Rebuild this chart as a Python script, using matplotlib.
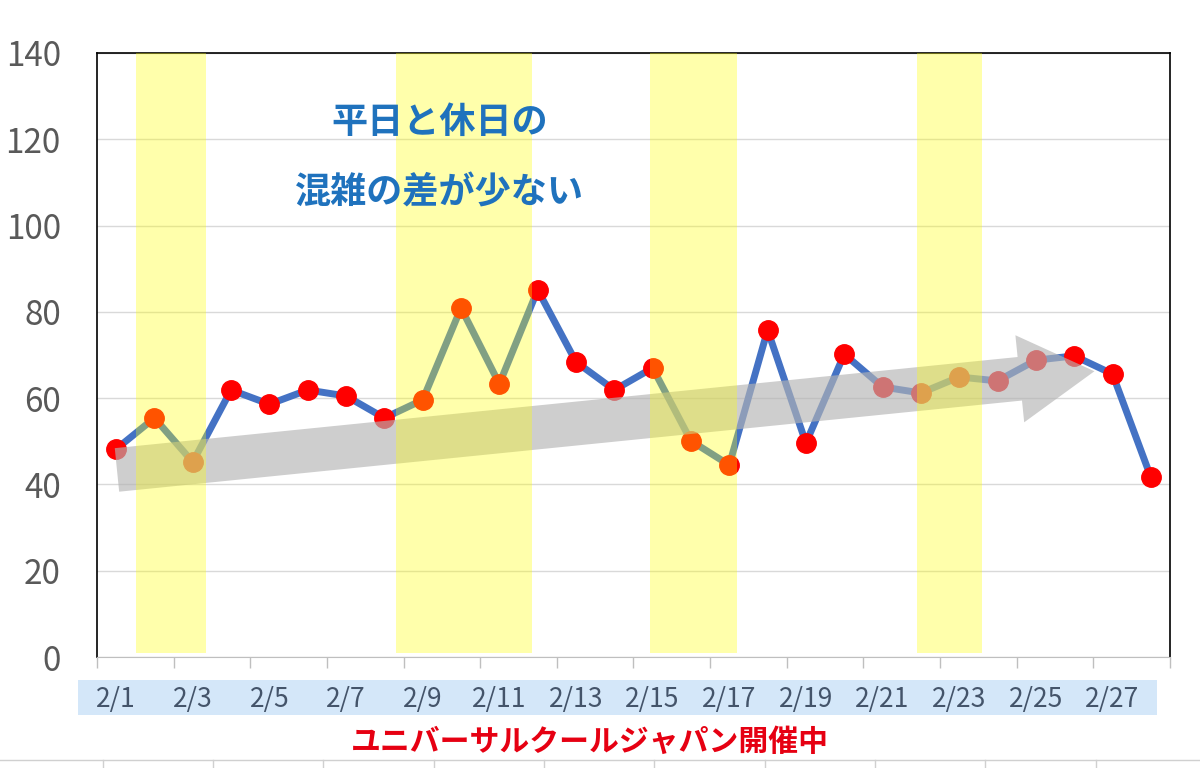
import numpy as np
import matplotlib.pyplot as plt
import matplotlib.patches as mpatches

plt.rcParams['font.family'] = ['Noto Sans CJK JP', 'DejaVu Sans']

# データ (2月の混雑指数)
days = [f'2/{d}' for d in range(1, 29)]
values = [48.2, 55.4, 45.2, 61.9, 58.6, 61.9, 60.5, 55.4, 59.6, 80.9,
          63.3, 85.1, 68.4, 61.9, 67.0, 50.1, 44.5, 75.8, 49.6, 70.2,
          62.6, 61.2, 64.9, 64.0, 68.8, 69.8, 65.6, 41.7]
# 休日の帯 (カテゴリ位置)
holiday_bands = [(0.52, 2.35), (7.3, 10.85), (13.93, 16.2), (20.9, 22.6)]
title_lines = ['平日と休日の', '混雑の差が少ない']
event_text = 'ユニバーサルクールジャパン開催中'

x = np.arange(len(days))

fig = plt.figure(figsize=(12, 7.68), dpi=100)
ax = fig.add_axes([0.0808, 0.1445, 0.8942, 0.7865])

ax.set_xlim(-0.5, 27.5)
ax.set_ylim(0, 140)
ax.set_yticks(range(0, 141, 20))
ax.yaxis.grid(True, color='#d9d9d9', lw=1)
ax.set_axisbelow(True)

ax.plot(x, values, color='#4472c4', lw=5, zorder=2,
        marker='o', ms=14, mfc='#ff0000', mec='#ff0000')

# 右肩上がりの矢印
arrow = mpatches.FancyArrowPatch((-0.05, 43.3), (25.6, 66.3),
                                 arrowstyle='simple,head_width=4.2,head_length=3.6,tail_width=2.1',
                                 mutation_scale=15, color='#b4b4b4', alpha=0.65,
                                 lw=0, zorder=3)
ax.add_patch(arrow)

for a, b in holiday_bands:
    ax.axvspan(a, b, ymin=1 / 140, ymax=1, color='#ffff00', alpha=0.33, lw=0, zorder=4)

for i, t in enumerate(title_lines):
    ax.text(8.45, 124 - i * 16.5, t, ha='center', va='center', fontsize=26,
            fontweight='bold', color='#1f72bd', zorder=5)

# 枠
for s in ['left', 'right', 'top']:
    ax.spines[s].set_color('black')
    ax.spines[s].set_linewidth(1.2)
ax.spines['bottom'].set_color('#bfbfbf')

ax.set_xticks(np.arange(-0.5, 28, 2))
ax.set_xticklabels([])
ax.tick_params(axis='x', length=8, color='#bfbfbf', width=1)
ax.tick_params(axis='y', length=0, labelsize=24, labelcolor='#595959', pad=26)

# 日付ラベルと水色の帯
fig.patches.append(mpatches.Rectangle((78 / 1200, 1 - 715 / 768), (1157 - 78) / 1200, 35 / 768,
                                      transform=fig.transFigure, color='#d4e7f9', lw=0,
                                      zorder=-1))
for i in range(0, len(days), 2):
    ax.text(x[i], -9.9, days[i], ha='center', va='center', fontsize=19,
            color='#44546a', clip_on=False)

fig.text(590 / 1200, 1 - 742 / 768, event_text, ha='center', va='center',
         fontsize=21.5, fontweight='bold', color='#e60012')

# 下のセル罫線
fig.add_artist(plt.Line2D([0, 1], [1 - 760 / 768] * 2, transform=fig.transFigure,
                          color='#d0d0d0', lw=1))
for xp in [103, 213, 323, 434, 544, 654, 765, 875, 985, 1096]:
    fig.add_artist(plt.Line2D([xp / 1200] * 2, [0, 1 - 760 / 768], transform=fig.transFigure,
                              color='#d0d0d0', lw=1))

fig.savefig('out.png', dpi=100)
